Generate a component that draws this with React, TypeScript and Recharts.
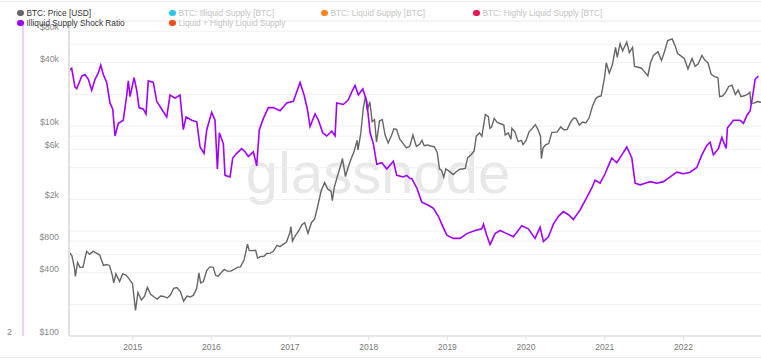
import { CartesianGrid, Line, LineChart, XAxis, YAxis } from "recharts";

// BTC price (date, USD)
const btcPrice: [string, number][] = [
  ["2014-03-12", 630], ["2014-03-25", 580], ["2014-04-05", 450], ["2014-04-10", 370], ["2014-04-20", 500],
  ["2014-05-01", 450], ["2014-05-15", 450], ["2014-06-01", 640], ["2014-06-15", 600], ["2014-07-01", 640],
  ["2014-07-15", 620], ["2014-08-01", 590], ["2014-08-18", 470], ["2014-09-01", 480], ["2014-09-15", 470],
  ["2014-09-28", 380], ["2014-10-05", 320], ["2014-10-15", 390], ["2014-11-01", 330], ["2014-11-15", 390],
  ["2014-12-01", 380], ["2014-12-15", 350], ["2014-12-31", 315],
  ["2015-01-14", 175], ["2015-01-25", 260], ["2015-02-10", 220], ["2015-02-25", 240], ["2015-03-10", 290],
  ["2015-03-25", 250], ["2015-04-10", 235], ["2015-04-25", 225], ["2015-05-10", 240], ["2015-05-25", 238],
  ["2015-06-10", 230], ["2015-06-25", 245], ["2015-07-10", 285], ["2015-07-25", 290], ["2015-08-10", 265],
  ["2015-08-25", 215], ["2015-09-10", 240], ["2015-09-25", 235], ["2015-10-10", 245], ["2015-10-25", 285],
  ["2015-11-04", 400], ["2015-11-12", 320], ["2015-11-25", 330], ["2015-12-10", 420], ["2015-12-25", 455],
  ["2016-01-10", 450], ["2016-01-20", 380], ["2016-02-01", 370], ["2016-02-15", 400], ["2016-03-01", 430],
  ["2016-03-15", 415], ["2016-04-01", 415], ["2016-04-15", 430], ["2016-05-01", 450], ["2016-05-15", 455],
  ["2016-06-01", 530], ["2016-06-17", 750], ["2016-06-25", 650], ["2016-07-10", 650], ["2016-07-25", 655],
  ["2016-08-03", 550], ["2016-08-15", 570], ["2016-09-01", 575], ["2016-09-15", 610], ["2016-10-01", 615],
  ["2016-10-15", 640], ["2016-11-01", 730], ["2016-11-15", 710], ["2016-12-01", 750], ["2016-12-15", 780],
  ["2016-12-31", 960],
  ["2017-01-05", 1100], ["2017-01-12", 800], ["2017-01-25", 900], ["2017-02-10", 1000], ["2017-02-25", 1150],
  ["2017-03-10", 1200], ["2017-03-25", 950], ["2017-04-10", 1200], ["2017-04-25", 1300], ["2017-05-10", 1750],
  ["2017-05-25", 2400], ["2017-06-10", 2900], ["2017-06-25", 2500], ["2017-07-10", 2400], ["2017-07-16", 1950],
  ["2017-07-25", 2600], ["2017-08-10", 3400], ["2017-08-25", 4300], ["2017-09-01", 4900], ["2017-09-15", 3300],
  ["2017-09-25", 3900], ["2017-10-10", 4800], ["2017-10-25", 5700], ["2017-11-08", 7300], ["2017-11-12", 5900],
  ["2017-11-25", 8500], ["2017-12-07", 15000], ["2017-12-17", 19300], ["2017-12-25", 14000],
  ["2018-01-06", 17000], ["2018-01-17", 11000], ["2018-01-28", 11500], ["2018-02-06", 7000], ["2018-02-20", 11200],
  ["2018-03-05", 11500], ["2018-03-18", 8200], ["2018-04-01", 6900], ["2018-04-15", 8000], ["2018-04-28", 9400],
  ["2018-05-10", 9300], ["2018-05-25", 7500], ["2018-06-10", 6800], ["2018-06-25", 6200], ["2018-07-10", 6400],
  ["2018-07-25", 8200], ["2018-08-10", 6400], ["2018-08-25", 6700], ["2018-09-05", 7300], ["2018-09-15", 6500],
  ["2018-10-01", 6600], ["2018-10-15", 6450], ["2018-11-01", 6350], ["2018-11-15", 5600], ["2018-11-25", 3900],
  ["2018-12-05", 3800], ["2018-12-15", 3250], ["2018-12-25", 3900],
  ["2019-01-10", 3700], ["2019-01-28", 3450], ["2019-02-10", 3650], ["2019-02-25", 3850], ["2019-03-10", 3900],
  ["2019-03-25", 3950], ["2019-04-05", 5000], ["2019-04-20", 5300], ["2019-05-05", 5800], ["2019-05-15", 8000],
  ["2019-05-30", 8600], ["2019-06-10", 8000], ["2019-06-26", 12900], ["2019-07-10", 12300], ["2019-07-17", 9500],
  ["2019-07-25", 9800], ["2019-08-06", 11800], ["2019-08-20", 10800], ["2019-09-05", 10500], ["2019-09-20", 10200],
  ["2019-09-26", 8200], ["2019-10-10", 8600], ["2019-10-23", 7500], ["2019-10-27", 9500], ["2019-11-10", 8800],
  ["2019-11-25", 7100], ["2019-12-10", 7300], ["2019-12-18", 6650], ["2019-12-31", 7200],
  ["2020-01-15", 8800], ["2020-01-30", 9500], ["2020-02-13", 10300], ["2020-02-25", 9300], ["2020-03-08", 8000],
  ["2020-03-12", 4900], ["2020-03-20", 6200], ["2020-04-01", 6600], ["2020-04-15", 6800], ["2020-04-30", 8700],
  ["2020-05-10", 8700], ["2020-05-25", 8800], ["2020-06-10", 9800], ["2020-06-25", 9200], ["2020-07-10", 9250],
  ["2020-07-27", 11000], ["2020-08-10", 11900], ["2020-08-20", 11800], ["2020-09-05", 10200], ["2020-09-20", 10900],
  ["2020-10-05", 10700], ["2020-10-20", 11900], ["2020-11-05", 15500], ["2020-11-20", 18200], ["2020-12-01", 19000],
  ["2020-12-15", 19300], ["2020-12-31", 29000],
  ["2021-01-08", 40000], ["2021-01-22", 32000], ["2021-02-05", 38000], ["2021-02-20", 56000], ["2021-02-28", 45000],
  ["2021-03-13", 61000], ["2021-03-25", 52000], ["2021-04-13", 63000], ["2021-04-25", 50000], ["2021-05-10", 56000],
  ["2021-05-19", 37000], ["2021-06-01", 36500], ["2021-06-20", 35500], ["2021-07-01", 33500], ["2021-07-20", 30000],
  ["2021-08-01", 40000], ["2021-08-15", 47000], ["2021-09-05", 51000], ["2021-09-21", 42000], ["2021-10-05", 51000],
  ["2021-10-20", 65000], ["2021-11-10", 67500], ["2021-11-25", 57000], ["2021-12-05", 49000], ["2021-12-20", 46500],
  ["2022-01-05", 44000], ["2022-01-22", 35000], ["2022-02-10", 44000], ["2022-02-24", 37000], ["2022-03-10", 39000],
  ["2022-03-28", 47000], ["2022-04-10", 42500], ["2022-04-25", 40000], ["2022-05-10", 31000], ["2022-05-25", 29500],
  ["2022-06-10", 29000], ["2022-06-18", 19000], ["2022-07-01", 19300], ["2022-07-15", 20800], ["2022-07-30", 23800],
  ["2022-08-14", 24500], ["2022-08-30", 20000], ["2022-09-12", 22000], ["2022-09-25", 19000], ["2022-10-10", 19400],
  ["2022-10-25", 20000], ["2022-11-05", 21000], ["2022-11-10", 16500], ["2022-11-25", 16500], ["2022-12-10", 17100],
  ["2022-12-27", 16800],
];

// Illiquid supply shock ratio (decimal year, ratio)
const shockRatio: [number, number][] = [
  [2014.203, 3.69], [2014.224, 3.7], [2014.266, 3.58], [2014.288, 3.57], [2014.352, 3.65], [2014.394, 3.66],
  [2014.436, 3.63], [2014.479, 3.56], [2014.521, 3.63], [2014.563, 3.67], [2014.593, 3.72], [2014.626, 3.66],
  [2014.669, 3.61], [2014.711, 3.48], [2014.746, 3.44], [2014.775, 3.27], [2014.817, 3.35], [2014.88, 3.37],
  [2014.924, 3.53], [2014.944, 3.62], [2014.966, 3.52], [2015.017, 3.64], [2015.051, 3.56], [2015.08, 3.45],
  [2015.135, 3.44], [2015.169, 3.41], [2015.198, 3.62], [2015.262, 3.61], [2015.305, 3.49], [2015.369, 3.44],
  [2015.432, 3.39], [2015.474, 3.53], [2015.538, 3.51], [2015.601, 3.53], [2015.643, 3.31], [2015.678, 3.39],
  [2015.75, 3.37], [2015.814, 3.36], [2015.856, 3.2], [2015.906, 3.16], [2015.941, 3.31], [2016.004, 3.42],
  [2016.046, 3.37], [2016.076, 3.06], [2016.101, 3.29], [2016.152, 3.22], [2016.173, 3.02], [2016.237, 3.01],
  [2016.271, 3.13], [2016.322, 3.16], [2016.386, 3.19], [2016.428, 3.17], [2016.47, 3.14], [2016.533, 3.17],
  [2016.576, 3.08], [2016.609, 3.31], [2016.66, 3.38], [2016.724, 3.45], [2016.787, 3.45], [2016.873, 3.43],
  [2016.958, 3.48], [2017.042, 3.49], [2017.127, 3.61], [2017.178, 3.53], [2017.22, 3.44], [2017.254, 3.33],
  [2017.318, 3.41], [2017.36, 3.37], [2017.415, 3.29], [2017.466, 3.27], [2017.53, 3.3], [2017.572, 3.27],
  [2017.593, 3.48], [2017.677, 3.47], [2017.741, 3.5], [2017.784, 3.55], [2017.826, 3.59], [2017.868, 3.53],
  [2017.924, 3.57], [2017.975, 3.49], [2018.017, 3.29], [2018.059, 3.22], [2018.102, 3.09], [2018.166, 3.1],
  [2018.229, 3.06], [2018.313, 3.11], [2018.356, 3.02], [2018.44, 3.01], [2018.483, 3.02], [2018.525, 3.0],
  [2018.547, 3.0], [2018.611, 2.94], [2018.674, 2.85], [2018.758, 2.83], [2018.822, 2.81], [2018.885, 2.76],
  [2018.928, 2.71], [2018.992, 2.64], [2019.076, 2.62], [2019.161, 2.62], [2019.246, 2.65], [2019.352, 2.67],
  [2019.437, 2.68], [2019.458, 2.71], [2019.5, 2.64], [2019.542, 2.58], [2019.606, 2.65], [2019.669, 2.67],
  [2019.755, 2.65], [2019.839, 2.63], [2019.945, 2.7], [2020.029, 2.68], [2020.114, 2.62], [2020.178, 2.69],
  [2020.22, 2.6], [2020.284, 2.63], [2020.347, 2.71], [2020.411, 2.76], [2020.474, 2.79], [2020.538, 2.77],
  [2020.601, 2.74], [2020.686, 2.8], [2020.772, 2.88], [2020.835, 2.94], [2020.877, 2.99], [2020.941, 2.97],
  [2021.004, 3.03], [2021.046, 3.08], [2021.089, 3.13], [2021.153, 3.1], [2021.217, 3.15], [2021.28, 3.2],
  [2021.344, 3.13], [2021.386, 2.97], [2021.449, 2.96], [2021.513, 2.97], [2021.576, 2.98], [2021.662, 2.97],
  [2021.746, 2.98], [2021.831, 3.01], [2021.916, 3.04], [2022.0, 3.03], [2022.085, 3.04], [2022.17, 3.07],
  [2022.234, 3.15], [2022.297, 3.21], [2022.339, 3.23], [2022.381, 3.15], [2022.445, 3.19], [2022.488, 3.26],
  [2022.543, 3.19], [2022.559, 3.32], [2022.635, 3.37], [2022.72, 3.37], [2022.763, 3.35], [2022.806, 3.4],
  [2022.848, 3.43], [2022.882, 3.53], [2022.911, 3.63], [2022.953, 3.65],
];

const yearTicks = [2015, 2016, 2017, 2018, 2019, 2020, 2021, 2022];
const priceTicks = [100, 400, 800, 2000, 6000, 10000, 40000, 80000];
const ratioTicks = [2];
const supplyTicks = [2, 6, 10, 40, 80, 200, 600, 1000];

const legendItems = [
  { name: "BTC: Price [USD]", color: "#666666", active: true },
  { name: "BTC: Illiquid Supply [BTC]", color: "#2ec5ea", active: false },
  { name: "BTC: Liquid Supply [BTC]", color: "#f7861c", active: false },
  { name: "BTC: Highly Liquid Supply [BTC]", color: "#f0134d", active: false },
  { name: "Illiquid Supply Shock Ratio", color: "#a100ff", active: true },
  { name: "Liquid + Highly Liquid Supply", color: "#f04e12", active: false },
];

const PURPLE = "#a100ff";
const GRAY = "#666666";

function toYear(s: string) {
  const [y, m, d] = s.split("-").map(Number);
  const start = Date.UTC(y, 0, 1);
  const len = Date.UTC(y + 1, 0, 1) - start;
  return y + (Date.UTC(y, m - 1, d) - start) / len;
}

const priceData = btcPrice.map(([d, v]) => ({ t: toYear(d), v }));
const ratioData = shockRatio.map(([t, v]) => ({ t, v }));

const fmtPrice = (v: number) => (v >= 1000 ? `$${v / 1000}k` : `$${v}`);

function PriceTick(props: any) {
  const { x, y, payload } = props;
  return (
    <text x={x} y={y - 4} dy="0.35em" textAnchor="end" fontSize={8.8} fill="#888">
      {fmtPrice(payload.value)}
    </text>
  );
}

function RatioTick(props: any) {
  const { x, y, payload } = props;
  return (
    <text x={x} y={y - 4} dy="0.35em" textAnchor="end" fontSize={8.8} fill="#888">
      {payload.value}
    </text>
  );
}

function ChartLegend() {
  return (
    <div
      style={{
        position: "absolute",
        left: 17,
        top: 8,
        display: "grid",
        gridTemplateColumns: "repeat(4, 152px)",
        gridAutoRows: "10px",
        fontSize: 8.3,
        lineHeight: "10px",
        zIndex: 2,
      }}
    >
      {legendItems.map((it) => (
        <div key={it.name} style={{ display: "flex", alignItems: "center", whiteSpace: "nowrap" }}>
          <span
            style={{
              width: 6.5,
              height: 6.5,
              borderRadius: "50%",
              background: it.color,
              marginRight: 3,
              flex: "none",
            }}
          />
          <span style={{ color: it.active ? "#333" : "#c4c4c4" }}>{it.name}</span>
        </div>
      ))}
    </div>
  );
}

export default function App() {
  return (
    <div
      style={{
        position: "absolute",
        left: 0,
        top: 0,
        width: 761,
        height: 361,
        background: "#fff",
        fontFamily: "'Liberation Sans', Arial, sans-serif",
        overflow: "hidden",
      }}
    >
      <div style={{ position: "absolute", left: 0, right: 0, top: 1, borderTop: "1.5px solid #ececec" }} />
      <div style={{ position: "absolute", left: 0, right: 0, top: 357, borderTop: "1.5px solid #ececec" }} />
      <svg width={761} height={361} style={{ position: "absolute", left: 0, top: 0 }}>
        <text x={378} y={193} textAnchor="middle" fontSize={58} fill="#e8e8e8" fontFamily="'Liberation Sans', Arial, sans-serif">
          glassnode
        </text>
      </svg>
      <ChartLegend />
      <div style={{ position: "absolute", left: 0, top: 0 }}>
        <LineChart width={761} height={361} margin={{ top: 21, right: 0, bottom: 0, left: 0 }}>
          <CartesianGrid yAxisId="supply" vertical={false} stroke="#f0f0f0" />
          <CartesianGrid yAxisId="price" vertical={false} stroke="#f0f0f0" />
          <XAxis
            dataKey="t"
            type="number"
            domain={[2014.19, 2022.986]}
            ticks={yearTicks}
            allowDataOverflow
            height={25}
            tickSize={4}
            tickMargin={4}
            tickLine={{ stroke: "#e2e2e2" }}
            axisLine={{ stroke: "#e6e6e6", strokeWidth: 1.5 }}
            tick={{ fontSize: 8.5, fill: "#777" }}
          />
          <YAxis
            yAxisId="price"
            orientation="left"
            scale="log"
            domain={[100, 100000]}
            ticks={priceTicks}
            interval={0}
            allowDataOverflow
            width={46}
            tickLine={false}
            tickMargin={4}
            axisLine={{ stroke: "#e0e0e0", strokeWidth: 2 }}
            tick={<PriceTick />}
          />
          <YAxis
            yAxisId="ratio"
            orientation="left"
            domain={[2, 4]}
            ticks={ratioTicks}
            interval={0}
            allowDataOverflow
            width={23}
            tickLine={false}
            tickMargin={5}
            axisLine={{ stroke: "#e6bfff", strokeWidth: 1.5 }}
            tick={<RatioTick />}
          />
          <YAxis yAxisId="supply" hide scale="log" domain={[1, 1000]} ticks={supplyTicks} allowDataOverflow />
          <Line
            data={priceData}
            dataKey="v"
            yAxisId="price"
            type="linear"
            stroke={GRAY}
            strokeWidth={1.4}
            dot={false}
            isAnimationActive={false}
          />
          <Line
            data={ratioData}
            dataKey="v"
            yAxisId="ratio"
            type="linear"
            stroke={PURPLE}
            strokeWidth={1.6}
            dot={false}
            isAnimationActive={false}
          />
        </LineChart>
      </div>
    </div>
  );
}
